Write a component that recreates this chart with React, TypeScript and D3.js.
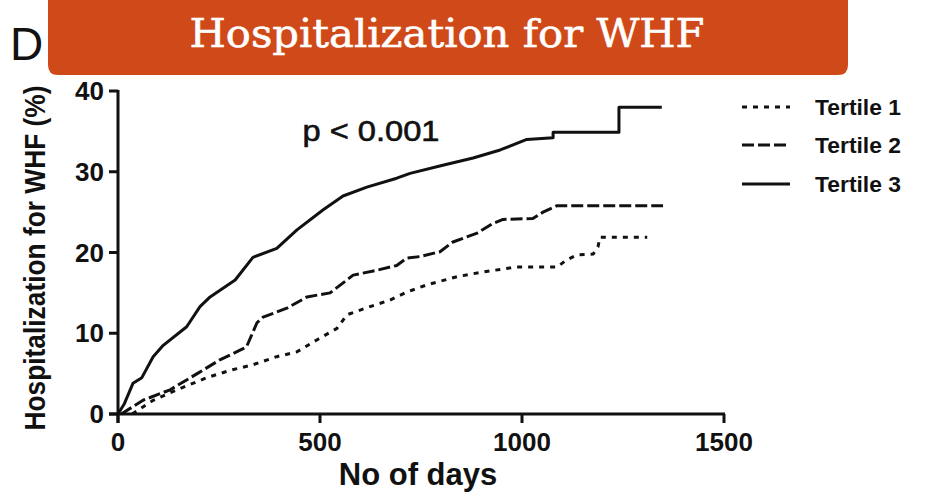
import React from "react";
import * as d3 from "d3";

// Cumulative hospitalization (%) by follow-up day, one pair of arrays per tertile
const tertile1Days = [35, 87, 146, 220, 277, 334, 393, 443, 493, 542, 567, 624, 673, 715, 765, 839, 904, 987, 1087, 1111, 1136, 1176, 1188, 1193, 1310];
const tertile1Vals = [0, 1.7, 3.0, 4.5, 5.4, 6.1, 7.1, 7.7, 9.2, 10.6, 12.3, 13.3, 14.1, 15.1, 16.0, 17.0, 17.6, 18.2, 18.2, 19.1, 19.7, 19.8, 20.7, 21.9, 21.9];

const tertile2Days = [8, 62, 129, 196, 252, 302, 318, 344, 359, 418, 468, 525, 582, 641, 690, 715, 748, 797, 829, 889, 928, 953, 1027, 1052, 1087, 1349];
const tertile2Vals = [0, 1.7, 3.0, 5.0, 6.7, 7.9, 8.3, 11.3, 12.0, 13.1, 14.5, 15.0, 17.2, 17.8, 18.4, 19.3, 19.5, 20.1, 21.3, 22.4, 23.6, 24.1, 24.2, 25.0, 25.8, 25.8];

const tertile3Days = [0, 15, 37, 59, 87, 112, 170, 203, 228, 290, 334, 393, 443, 508, 557, 616, 690, 723, 804, 879, 946, 1012, 1077, 1077, 1240, 1240, 1346];
const tertile3Vals = [0, 1.2, 3.8, 4.5, 7.1, 8.5, 10.8, 13.3, 14.5, 16.6, 19.4, 20.5, 22.8, 25.3, 27.0, 28.1, 29.2, 29.8, 30.8, 31.7, 32.7, 34.0, 34.2, 34.9, 34.9, 38.0, 38.0];

const xTicks = [0, 500, 1000, 1500];
const yTicks = [0, 10, 20, 30, 40];
const seriesNames = ["Tertile 1", "Tertile 2", "Tertile 3"];
const dashStyles = ["5 6", "12 4", "none"];

const title = "Hospitalization for WHF";
const panelLetter = "D";
const pValueText = "p < 0.001";
const xTitle = "No of days";
const yTitle = "Hospitalization for WHF (%)";

const W = 931;
const H = 492;
const FONT = "'Liberation Sans', Arial, Helvetica, sans-serif";

export default function App() {
  const x = d3.scaleLinear().domain([0, 1500]).range([118, 724]);
  const y = d3.scaleLinear().domain([0, 40]).range([414, 91]);

  const line = d3
    .line<[number, number]>()
    .x((d) => x(d[0]))
    .y((d) => y(d[1]));

  const series = [
    tertile1Days.map((d, i) => [d, tertile1Vals[i]] as [number, number]),
    tertile2Days.map((d, i) => [d, tertile2Vals[i]] as [number, number]),
    tertile3Days.map((d, i) => [d, tertile3Vals[i]] as [number, number]),
  ];

  const legendY = [107, 145, 184];

  return (
    <svg
      width={W}
      height={H}
      viewBox={`0 0 ${W} ${H}`}
      style={{ display: "block", position: "absolute", left: 0, top: 0, background: "#fff" }}
    >
      <rect x={0} y={0} width={W} height={H} fill="#fff" />

      {/* panel letter, partly behind the banner */}
      <text x={10} y={60} fontFamily={FONT} fontSize={46} fill="#111">
        {panelLetter}
      </text>

      {/* title banner */}
      <path
        d={`M48,0 H848 V65 Q848,75 838,75 H58 Q48,75 48,65 Z`}
        fill="#D04A19"
      />
      <text
        x={447}
        y={47}
        textAnchor="middle"
        fontFamily="'DejaVu Serif', serif"
        fontSize={40}
        fill="#fff"
        stroke="#fff"
        strokeWidth={0.6}
        textLength={515}
        lengthAdjust="spacingAndGlyphs"
      >
        {title}
      </text>

      {/* axes */}
      <g stroke="#111" strokeWidth={3} fill="none">
        <line x1={x(0)} x2={x(0)} y1={y(40) - 1} y2={y(0) + 9} />
        <line x1={x(0) - 9} x2={x(1500) + 1} y1={y(0)} y2={y(0)} />
        {yTicks.map((t) => (
          <line key={`yt${t}`} x1={x(0) - 9} x2={x(0)} y1={y(t)} y2={y(t)} />
        ))}
        {xTicks.map((t) => (
          <line key={`xt${t}`} x1={x(t)} x2={x(t)} y1={y(0)} y2={y(0) + 9} />
        ))}
      </g>

      <g fontFamily={FONT} fontWeight="bold" fontSize={26} fill="#111">
        {yTicks.map((t) => (
          <text key={`yl${t}`} x={104} y={y(t) + 9} textAnchor="end">
            {t}
          </text>
        ))}
        {xTicks.map((t) => (
          <text key={`xl${t}`} x={x(t)} y={451} textAnchor="middle">
            {t}
          </text>
        ))}
        <text x={418} y={485} textAnchor="middle" fontSize={31}>
          {xTitle}
        </text>
        <text
          transform={`translate(45, 258) rotate(-90)`}
          textAnchor="middle"
          fontSize={29}
          textLength={345}
          lengthAdjust="spacingAndGlyphs"
        >
          {yTitle}
        </text>
      </g>

      {/* survival-style curves */}
      <g fill="none" stroke="#111" strokeWidth={3} strokeLinejoin="round">
        {series.map((s, i) => (
          <path key={i} d={line(s) ?? ""} strokeDasharray={dashStyles[i]} />
        ))}
      </g>

      <text
        x={371}
        y={141}
        textAnchor="middle"
        fontFamily={FONT}
        fontSize={29}
        fill="#111"
        stroke="#111"
        strokeWidth={0.6}
        textLength={137}
        lengthAdjust="spacingAndGlyphs"
      >
        {pValueText}
      </text>

      {/* legend */}
      <g fontFamily={FONT} fontWeight="bold" fontSize={22} fill="#111">
        {seriesNames.map((n, i) => (
          <g key={n}>
            <line
              x1={742}
              x2={790}
              y1={legendY[i]}
              y2={legendY[i]}
              stroke="#111"
              strokeWidth={3}
              strokeDasharray={dashStyles[i]}
            />
            <text
              x={815}
              y={legendY[i] + 8}
              textLength={86}
              lengthAdjust="spacingAndGlyphs"
            >
              {n}
            </text>
          </g>
        ))}
      </g>
    </svg>
  );
}
